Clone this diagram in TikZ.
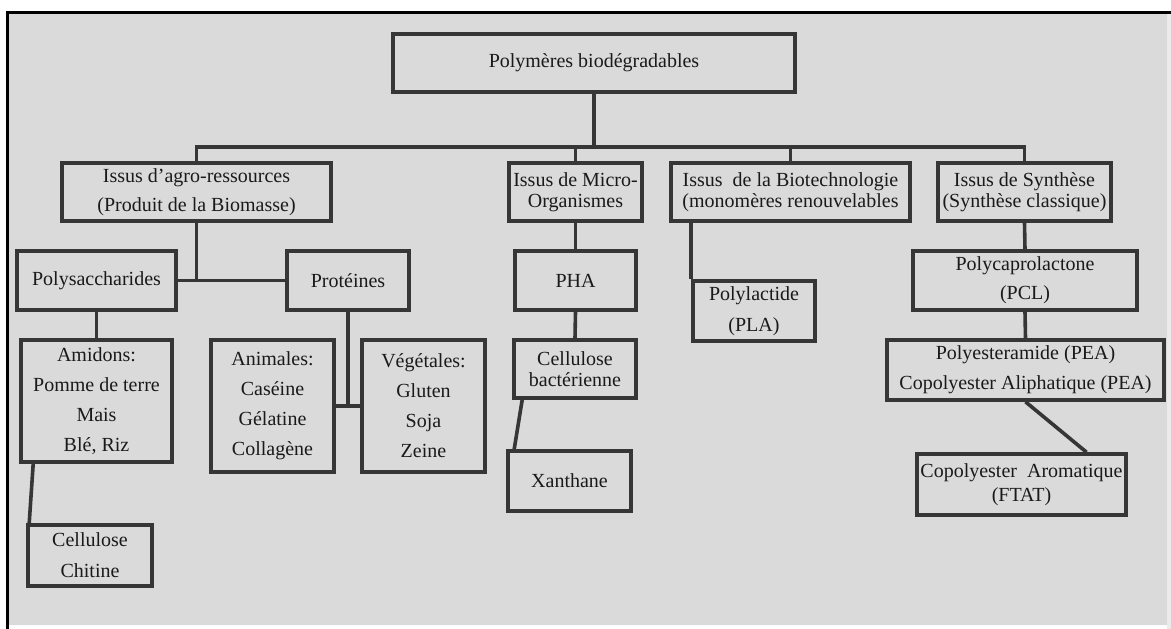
\documentclass[tikz,border=0pt]{standalone}
\usepackage{fontspec}
\setmainfont{Liberation Serif}
\usetikzlibrary{calc}
\definecolor{bg}{HTML}{DADADA}
\definecolor{ln}{HTML}{363636}
\definecolor{tx}{HTML}{1A1A1A}
\tikzset{
  bx/.style={draw=ln, fill=bg, line width=3.6pt, inner sep=0pt, align=center,
    text=tx, font=\fontsize{20}{21}\selectfont},
  cn/.style={draw=ln, line width=3.6pt},
}
\begin{document}
\begin{tikzpicture}[x=1pt,y=-1pt]
\useasboundingbox (0,0) rectangle (1171,629);
\fill[white] (0,0) rectangle (1171,629);
\fill[bg] (7,12) rectangle (1167,625);
\fill[black!8] (1167,12) rectangle (1171,629);
\draw[black, line width=3pt] (7,629) -- (7,12) -- (1171,12);

\coordinate (busy) at (0,147);

\node[bx, minimum width=402, minimum height=58] (top) at (594,63) {Polymères biodégradables};

\node[bx, minimum width=269, minimum height=58] (agro) at (196.5,192) {Issus d'agro-ressources\\[8pt](Produit de la Biomasse)};
\node[bx, minimum width=133, minimum height=58] (micro) at (575.5,192) {Issus de Micro-\\Organismes};
\node[bx, minimum width=239, minimum height=58] (biotech) at (790.5,192) {Issus\ \ de la Biotechnologie\\(monomères renouvelables};
\node[bx, minimum width=173, minimum height=58] (synth) at (1024.5,192) {Issus de Synthèse\\(Synthèse classique)};

\node[bx, minimum width=159, minimum height=59] (polys) at (96.5,280.5) {Polysaccharides};
\node[bx, minimum width=122, minimum height=59] (prot) at (348,280.5) {Protéines};
\node[bx, minimum width=121, minimum height=59] (pha) at (575.5,280.5) {PHA};
\node[bx, minimum width=122, minimum height=60] (pla) at (754,311) {Polylactide\\[10pt](PLA)};
\node[bx, minimum width=224, minimum height=59] (pcl) at (1025,280.5) {Polycaprolactone\\[8pt](PCL)};

\node[bx, minimum width=151, minimum height=122] (amid) at (96.5,401) {Amidons:\\[9pt]Pomme de terre\\[9pt]Mais\\[9pt]Blé, Riz};
\node[bx, minimum width=123, minimum height=132] (anim) at (272.5,406) {Animales:\\[9pt]Caséine\\[9pt]Gélatine\\[9pt]Collagène};
\node[bx, minimum width=123, minimum height=132] (veg) at (423.5,406) {Végétales:\\[9pt]Gluten\\[9pt]Soja\\[9pt]Zeine};
\node[bx, minimum width=122, minimum height=58] (cbact) at (575,369) {Cellulose\\bactérienne};
\node[bx, minimum width=123, minimum height=60] (xan) at (569.5,481) {Xanthane};
\node[bx, minimum width=124, minimum height=61] (cell) at (90,555.5) {Cellulose\\[10pt]Chitine};
\node[bx, minimum width=277, minimum height=60] (pea) at (1025.5,370) {Polyesteramide (PEA)\\[9pt]Copolyester Aliphatique (PEA)};
\node[bx, minimum width=209, minimum height=61] (ftat) at (1021.5,484.5) {Copolyester\ \ Aromatique\\[3pt](FTAT)};

% level 1 bus
\draw[cn] (top.south) -- (top.south |- busy);
\draw[cn] (agro.north) -- (agro.north |- busy) -- (synth.north |- busy) -- (synth.north);
\draw[cn] (micro.north) -- (micro.north |- busy);
\draw[cn] (biotech.north) -- (biotech.north |- busy);

% agro
\draw[cn] (agro.south) -- (agro.south |- polys.east);
\draw[cn] (polys.east) -- (prot.west);
\draw[cn] (polys.south) -- (amid.north);
\draw[cn] ($(amid.south west)+(14,0)$) -- ($(cell.north west)+(3,0)$);
\draw[cn] (prot.south) -- (prot.south |- anim.east);
\draw[cn] (anim.east) -- (veg.west);

% micro
\draw[cn] (micro.south) -- (pha.north);
\draw[cn] (pha.south) -- (cbact.north);
\draw[cn] ($(cbact.south west)+(10,0)$) -- ($(xan.north west)+(8,0)$);

% biotech
\draw[cn] (pla.west |- biotech.south) -- (pla.north west);

% synth
\draw[cn] (synth.south) -- (pcl.north);
\draw[cn] (pcl.south) -- (pea.north);
\draw[cn] (pea.south) -- ($(ftat.north)+(65,0)$);
\end{tikzpicture}
\end{document}
